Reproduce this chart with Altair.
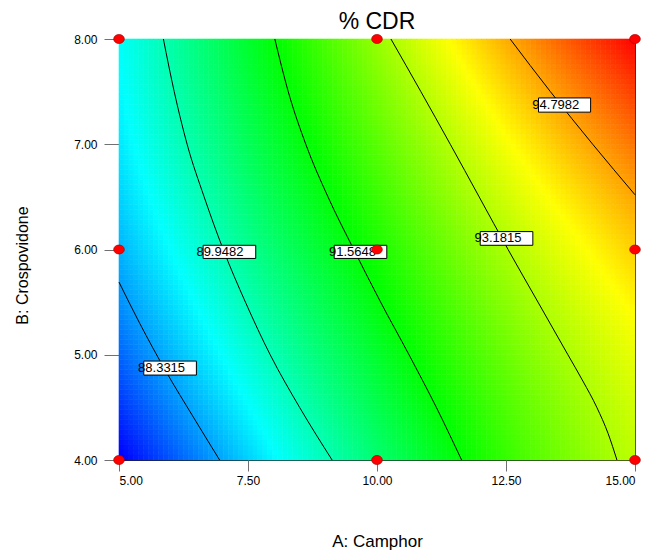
import altair as alt
import numpy as np
import pandas as pd

# ---------------- data ----------------
levels = [88.3315, 89.9482, 91.5648, 93.1815, 94.7982]
level_text = ["88.3315", "89.9482", "91.5648", "93.1815", "94.7982"]

# contour lines (A: Camphor, B: Crospovidone)
c1_A = [5.00, 5.40, 5.90, 6.45, 6.95]
c1_B = [5.69, 5.30, 4.85, 4.40, 4.00]
c2_A = [5.86, 6.07, 6.32, 6.65, 7.02, 7.45, 7.93, 8.50, 9.13]
c2_B = [8.00, 7.50, 7.00, 6.50, 6.00, 5.50, 5.00, 4.50, 4.00]
c3_A = [8.02, 8.28, 8.62, 9.05, 9.55, 10.07, 10.62, 11.15, 11.64]
c3_B = [8.00, 7.50, 7.00, 6.50, 6.00, 5.50, 5.00, 4.50, 4.00]
c4_A = [10.27, 10.85, 11.42, 11.98, 12.54, 13.12, 13.70, 13.99, 14.26, 14.48, 14.65]
c4_B = [8.00, 7.50, 7.00, 6.50, 6.00, 5.50, 5.00, 4.75, 4.50, 4.25, 4.00]
c5_A = [12.58, 13.36, 14.18, 15.00]
c5_B = [8.00, 7.50, 7.00, 6.52]
contours_A = [c1_A, c2_A, c3_A, c4_A, c5_A]
contours_B = [c1_B, c2_B, c3_B, c4_B, c5_B]

# corner responses read from the colour field
corner_A = [5, 15, 5, 15]
corner_B = [4, 8, 8, 4]
corner_val = [86.9, 96.3, 89.3, 93.36]

# colour scale stops (blue, cyan, green, yellow, red)
color_stops = [86.9, 89.25, 91.6, 93.95, 96.3]
color_range = ["#0000ff", "#00ffff", "#00ff00", "#ffff00", "#ff0000"]

# design points
design_A = [5, 10, 15, 5, 10, 15, 5, 10, 15]
design_B = [4, 4, 4, 6, 6, 6, 8, 8, 8]

# label boxes
label_A0 = [5.48, 6.63, 9.17, 12.00, 13.13]
label_A1 = [6.50, 7.65, 10.19, 13.02, 14.14]
label_Btop = [4.94, 6.04, 6.04, 6.17, 7.44]
label_Bbot = [4.807, 5.915, 5.915, 6.04, 7.305]
label_textA = [5.37, 6.50, 9.07, 11.89, 13.01]

x_ticks = [5.0, 7.5, 10.0, 12.5, 15.0]
y_ticks = [4.0, 5.0, 6.0, 7.0, 8.0]
chart_title = ["% CDR"]

# ---------------- response surface fitted to the read contours ----------------
pA, pB, pY = [], [], []
for lev, la, lb in zip(levels, contours_A, contours_B):
    pA += la; pB += lb; pY += [lev] * len(la)
pA += corner_A; pB += corner_B; pY += corner_val
pA = np.array(pA, float); pB = np.array(pB, float); pY = np.array(pY, float)


def terms(A, B):
    a = (np.asarray(A) - 10) / 5
    b = (np.asarray(B) - 6) / 2
    return np.column_stack([np.ones_like(a), a, b, a * b, a * a, b * b, a * a * b, a * b * b])


coef, *_ = np.linalg.lstsq(terms(pA, pB), pY, rcond=None)

nA, nB = 104, 84
ea = np.linspace(5, 15, nA + 1)
eb = np.linspace(4, 8, nB + 1)
ca = (ea[:-1] + ea[1:]) / 2
cb = (eb[:-1] + eb[1:]) / 2
GA, GB = np.meshgrid(ca, cb)
vals = terms(GA.ravel(), GB.ravel()) @ coef
A0, B0 = np.meshgrid(ea[:-1], eb[:-1])
A1, B1 = np.meshgrid(ea[1:], eb[1:])
grid = pd.DataFrame({
    "a0": A0.ravel(), "a1": A1.ravel(), "b0": B0.ravel(), "b1": B1.ravel(), "v": vals
})

lines = pd.concat([
    pd.DataFrame({"A": la, "B": lb, "lev": lt, "i": range(len(la))})
    for la, lb, lt in zip(contours_A, contours_B, level_text)
])
labels = pd.DataFrame({
    "a0": label_A0, "a1": label_A1, "bt": label_Btop, "bb": label_Bbot,
    "ta": label_textA, "tb": [(t + b) / 2 for t, b in zip(label_Btop, label_Bbot)],
    "txt": level_text,
})
design = pd.DataFrame({"A": design_A, "B": design_B})
title_df = pd.DataFrame({"t": chart_title})

# ---------------- chart ----------------
FONT = "Liberation Sans"
xs = alt.Scale(domain=[5, 15], nice=False, zero=False)
ys = alt.Scale(domain=[4, 8], nice=False, zero=False)
cscale = alt.Scale(domain=color_stops, range=color_range, clamp=True, interpolate="rgb")

x_axis = alt.Axis(values=x_ticks, format=".2f", tickSize=11, tickColor="#707070", tickWidth=1,
                  labelFontSize=12, labelFont=FONT, labelColor="#000000", labelPadding=4,
                  domain=False, grid=False, title="A: Camphor", titleFont=FONT,
                  titleFontSize=17, titleFontWeight="normal", titleColor="#000000",
                  titleBaseline="alphabetic", titleY=86)
y_axis = alt.Axis(values=y_ticks, format=".2f", tickSize=15, tickColor="#707070", tickWidth=1,
                  labelFontSize=12, labelFont=FONT, labelColor="#000000", labelPadding=7,
                  domain=False, grid=False, title="B: Crospovidone", titleFont=FONT,
                  titleFontSize=16, titleFontWeight="normal", titleColor="#000000",
                  titleBaseline="alphabetic", titleX=-92, titleY=226, titleAngle=270)

heat = alt.Chart(grid).mark_rect(strokeWidth=0.6).encode(
    x=alt.X("a0:Q", scale=xs, axis=x_axis),
    x2="a1",
    y=alt.Y("b0:Q", scale=ys, axis=y_axis),
    y2="b1",
    color=alt.Color("v:Q", scale=cscale, legend=None),
    stroke=alt.Stroke("v:Q", scale=cscale, legend=None),
)

contour = alt.Chart(lines).mark_line(color="#000000", strokeWidth=1, interpolate="monotone").encode(
    x=alt.X("A:Q", scale=xs),
    y=alt.Y("B:Q", scale=ys),
    detail="lev:N",
    order="i:Q",
)

boxes = alt.Chart(labels).mark_rect(fill="#ffffff", stroke="#000000", strokeWidth=1).encode(
    x=alt.X("a0:Q", scale=xs), x2="a1", y=alt.Y("bt:Q", scale=ys), y2="bb",
)

texts = alt.Chart(labels).mark_text(align="left", baseline="middle", font=FONT,
                                     fontSize=13, color="#000000").encode(
    x=alt.X("ta:Q", scale=xs), y=alt.Y("tb:Q", scale=ys), text="txt:N",
)

ellipse = "M -1 0 A 1 0.85 0 1 0 1 0 A 1 0.85 0 1 0 -1 0 Z"
dots = alt.Chart(design).mark_point(shape=ellipse, filled=True, size=115, fill="#ff0000",
                                     stroke="#a00000", strokeWidth=0.6, opacity=1).encode(
    x=alt.X("A:Q", scale=xs), y=alt.Y("B:Q", scale=ys),
)

title_mark = alt.Chart(title_df).mark_text(font=FONT, fontSize=23, color="#000000",
                                           align="center", baseline="alphabetic").encode(
    x=alt.value(258), y=alt.value(-10), text="t:N",
)

chart = alt.layer(heat, contour, boxes, texts, dots, title_mark).properties(
    width=516, height=421,
    autosize=alt.AutoSizeParams(type="none"),
    padding={"left": 119, "top": 39, "right": 15, "bottom": 91},
    background="#ffffff",
).configure_view(stroke="#202020", strokeWidth=1)

chart.save("out.html", embed_options={"renderer": "svg", "actions": False})
